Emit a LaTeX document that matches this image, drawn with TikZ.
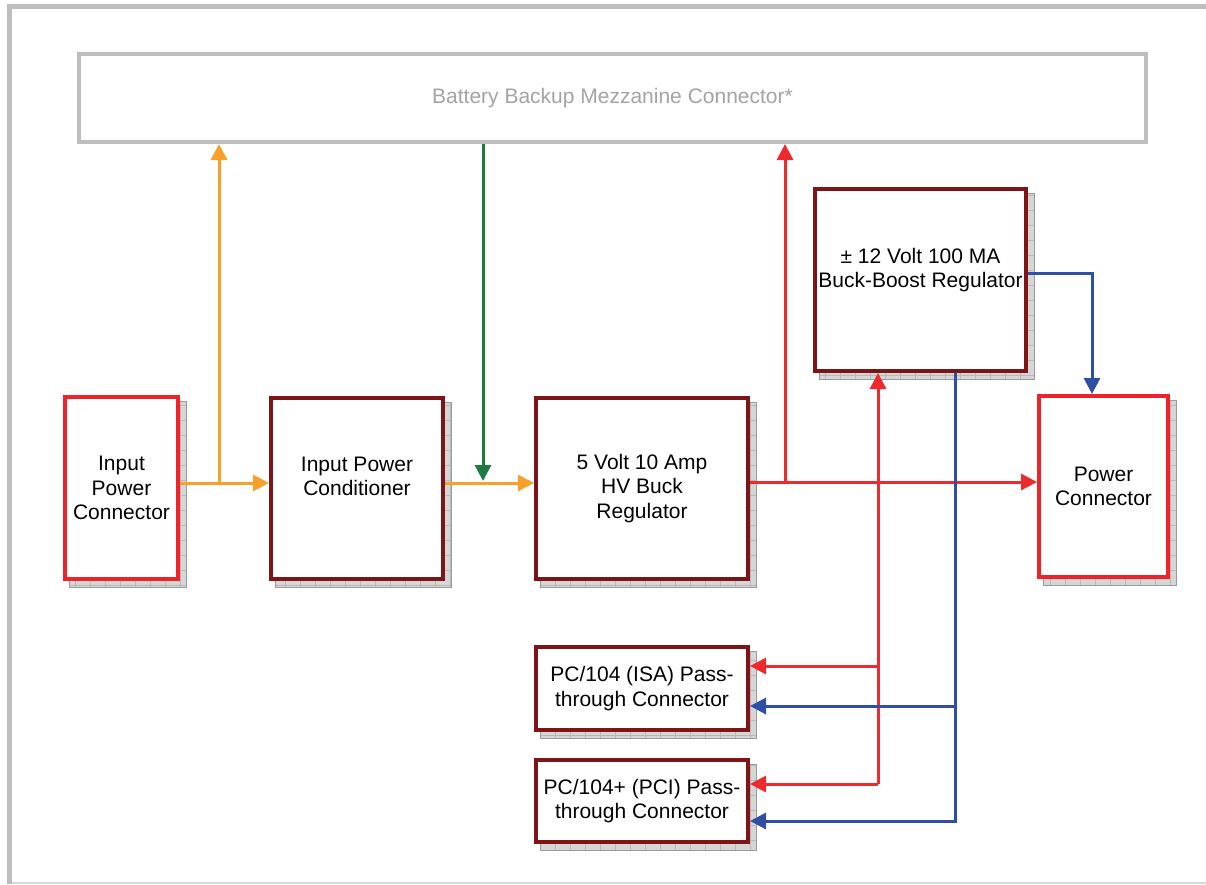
\documentclass[tikz,border=0pt]{standalone}
\usepackage{fontspec}
\setmainfont{Liberation Sans}
\usetikzlibrary{arrows.meta,backgrounds}
\definecolor{framegray}{HTML}{BEBEBE}
\definecolor{boxred}{HTML}{EE2229}
\definecolor{boxdark}{HTML}{7D1518}
\definecolor{lineorange}{HTML}{F7A12A}
\definecolor{linegreen}{HTML}{1B7C3E}
\definecolor{lineblue}{HTML}{2F4FA5}
\definecolor{linered}{HTML}{EE2A2E}
\definecolor{titlegray}{HTML}{A4A4A4}
\definecolor{shadowfill}{HTML}{D6D6D6}
\definecolor{shadowgrid}{HTML}{B8B8B8}
\begin{document}
\begin{tikzpicture}[x=1pt,y=-1pt,
  box/.style={draw, fill=white, line width=4pt, align=center, inner sep=0pt,
    font=\fontsize{21}{24.5}\selectfont},
  redbox/.style={box, draw=boxred},
  darkbox/.style={box, draw=boxdark},
  mezzbox/.style={box, draw=framegray, text=titlegray},
  conn/.style={line width=3pt},
  frameline/.style={draw=framegray, line width=5pt}]
\useasboundingbox (0,0) rectangle (1206,884);
% frame
\draw[frameline] (7,6.5) -- (1206,6.5);
\draw[frameline] (9.5,4) -- (9.5,884);
\draw[draw=framegray!60, line width=2pt] (12,883) -- (1206,883);

% boxes
\node[mezzbox, minimum width=1067pt, minimum height=88pt] (mezz) at (612.5,98) {Battery Backup Mezzanine Connector*};
\node[redbox, minimum width=113pt, minimum height=182pt] (ipc) at (121.5,488) {Input\\Power\\Connector};
\node[darkbox, minimum width=172pt, minimum height=181pt] (ipcond) at (357,488.5) {Input Power\\Conditioner\\\mbox{}};
\node[darkbox, minimum width=212pt, minimum height=181pt] (buck5) at (642,488.5) {5 Volt 10 Amp\\HV Buck\\Regulator};
\node[darkbox, minimum width=211pt, minimum height=182pt] (bb) at (920.5,280) {± 12 Volt 100 MA\\Buck-Boost Regulator\\\mbox{}};
\node[redbox, minimum width=129pt, minimum height=181pt] (pwr) at (1103.5,486.5) {Power\\Connector};
\node[darkbox, minimum width=212pt, minimum height=83pt] (isa) at (642,688.5) {PC/104 (ISA) Pass-\\through Connector};
\node[darkbox, minimum width=212pt, minimum height=82pt] (pci) at (642,801) {PC/104+ (PCI) Pass-\\through Connector};

% page background and shadows
\begin{scope}[on background layer]
\fill[white] (0,0) rectangle (1206,884);
\foreach \n in {ipc,ipcond,buck5,bb,pwr,isa,pci}{
  \fill[shadowfill] ([shift={(6,6)}]\n.north west) rectangle ([shift={(6,6)}]\n.south east);
  \draw[shadowgrid, line width=0.7pt, step=15pt] ([shift={(6,6)}]\n.north west) grid ([shift={(6,6)}]\n.south east);
  \draw[shadowgrid!85!black, line width=0.6pt] ([shift={(6,6)}]\n.north west) rectangle ([shift={(6,6)}]\n.south east);
}
\end{scope}

% junction coordinates
\coordinate (jo1) at (219,483);
\coordinate (jo2) at (483,483);
\coordinate (jr1) at (785,482);
\coordinate (jr2) at (878,482);
\coordinate (r1) at (878,666);
\coordinate (r2) at (878,784);
\coordinate (b0) at (1092,273);
\coordinate (b1) at (955,706);
\coordinate (b2) at (955,821);
\coordinate (gend) at (483,481);

% orange
\draw[conn, draw=lineorange, -{Triangle[length=16pt,width=16pt,fill=lineorange]}] (ipc.east |- jo1) -- (ipcond.west |- jo1);
\draw[conn, draw=lineorange, -{Triangle[length=16pt,width=16pt,fill=lineorange]}] (jo1) -- (jo1 |- mezz.south);
\draw[conn, draw=lineorange, -{Triangle[length=16pt,width=16pt,fill=lineorange]}] (ipcond.east |- jo2) -- (buck5.west |- jo2);
% green
\draw[conn, draw=linegreen, -{Triangle[length=16pt,width=16pt,fill=linegreen]}] (jo2 |- mezz.south) -- (gend);
% red
\draw[conn, draw=linered, -{Triangle[length=16pt,width=16pt,fill=linered]}] (buck5.east |- jr1) -- (pwr.west |- jr1);
\draw[conn, draw=linered, -{Triangle[length=16pt,width=16pt,fill=linered]}] (jr1) -- (jr1 |- mezz.south);
\draw[conn, draw=linered, -{Triangle[length=16pt,width=16pt,fill=linered]}] (r2) -- (jr2 |- bb.south);
\draw[conn, draw=linered, -{Triangle[length=16pt,width=16pt,fill=linered]}] (r1) -- (isa.east |- r1);
\draw[conn, draw=linered, -{Triangle[length=16pt,width=16pt,fill=linered]}] (r2) -- (pci.east |- r2);
% blue
\draw[conn, draw=lineblue, -{Triangle[length=16pt,width=16pt,fill=lineblue]}] (bb.east |- b0) -- (b0) -- (b0 |- pwr.north);
\draw[conn, draw=lineblue, -{Triangle[length=16pt,width=16pt,fill=lineblue]}] (b1 |- bb.south) -- (b2) -- (pci.east |- b2);
\draw[conn, draw=lineblue, -{Triangle[length=16pt,width=16pt,fill=lineblue]}] (b1) -- (isa.east |- b1);
\end{tikzpicture}
\end{document}
